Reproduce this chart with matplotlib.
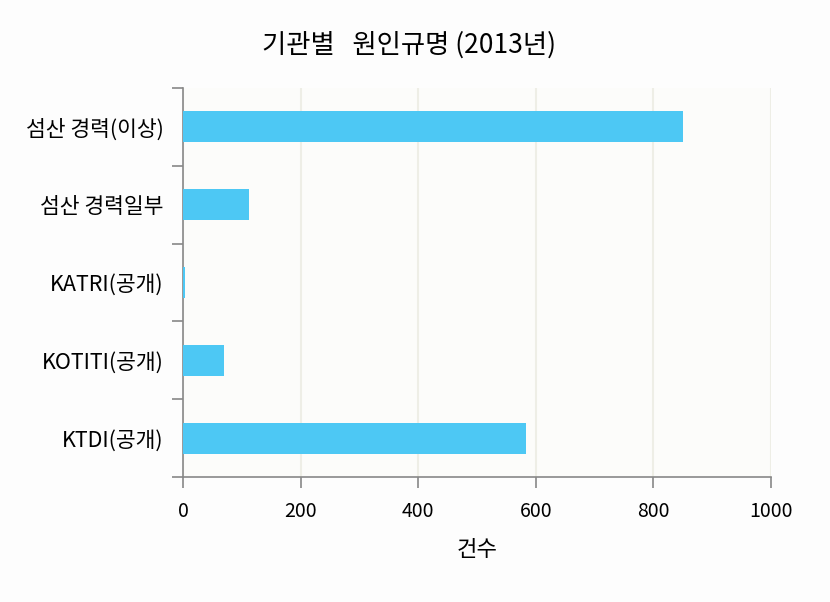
import matplotlib
matplotlib.use("Agg")
from matplotlib import pyplot as plt
import numpy as np

plt.rcParams['font.family'] = ['Noto Sans CJK KR', 'DejaVu Sans']

# data, top to bottom as in the chart
labels = ["섬산 경력(이상)", "섬산 경력일부", "KATRI(공개)", "KOTITI(공개)", "KTDI(공개)"]
counts = [850, 112, 3, 70, 583]
xticks = [0, 200, 400, 600, 800, 1000]

fig = plt.figure(figsize=(8.3, 6.02), dpi=100, facecolor="#fdfdfd")
ax = fig.add_axes([0.2205, 0.2076, 0.7084, 0.6462])
ax.set_facecolor("#fcfcfa")

y = np.arange(len(labels))
ax.barh(y, counts, height=0.4, color="#4dc8f4", zorder=3)
ax.set_ylim(len(labels) - 0.5, -0.5)
ax.set_xlim(0, 1000)

# category labels centred on bars, ticks at category boundaries
ax.set_yticks(y)
ax.set_yticklabels(labels, fontsize=15.5)
ax.tick_params(axis="y", length=0, pad=14)
ax.set_yticks(np.arange(len(labels) + 1) - 0.5, minor=True)
ax.tick_params(axis="y", which="minor", length=8, color="#888888", width=1.2)

ax.set_xticks(xticks)
ax.set_xticklabels([str(t) for t in xticks], fontsize=14)
ax.tick_params(axis="x", length=8, color="#888888", width=1.2, pad=9)

ax.grid(axis="x", color="#eeeee6", linewidth=1.5, zorder=0)

for s in ["top", "right"]:
    ax.spines[s].set_visible(False)
for s in ["left", "bottom"]:
    ax.spines[s].set_color("#888888")
    ax.spines[s].set_linewidth(1.2)

ax.set_xlabel("건수", fontsize=16, labelpad=12)
fig.text(0.493, 0.925, "기관별   원인규명 (2013년)", ha="center", va="center", fontsize=19)

plt.savefig("out.png", dpi=100, facecolor=fig.get_facecolor())
